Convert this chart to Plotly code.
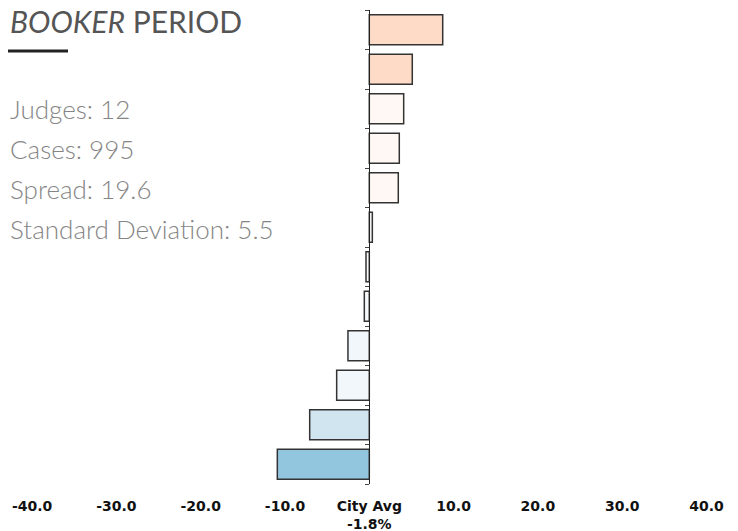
import plotly.graph_objects as go

judges = ["J1", "J2", "J3", "J4", "J5", "J6", "J7", "J8", "J9", "J10", "J11", "J12"]
values = [8.71, 5.1, 4.08, 3.56, 3.44, 0.36, -0.39, -0.59, -2.53, -3.87, -7.07, -10.91]
colors = ["#fddbc7", "#fddbc7", "#fff8f4", "#fff8f4", "#fff8f4", "#fbfbfb",
          "#f7f9fb", "#f7f9fb", "#f2f7fb", "#f2f7fb", "#d1e5f0", "#92c5de"]
tick_vals = [-40, -30, -20, -10, 0, 10, 20, 30, 40]
tick_text = ["-40.0", "-30.0", "-20.0", "-10.0", "City Avg<br>-1.8%", "10.0", "20.0", "30.0", "40.0"]
title_italic = "BOOKER"
title_rest = " PERIOD"
stats = ["Judges: 12", "Cases: 995", "Spread: 19.6", "Standard Deviation: 5.5"]

# page has an 8px body margin; figure sized to fill the remaining window
W, H = 730, 523
OFF = 8
PLOT_TOP, PLOT_BOT = 10, 484  # page pixels
X_MIN, X_MAX = -42.86, 43.74


def px(page_x):
    return (page_x - OFF) / W


def py(page_y):
    return (PLOT_BOT - page_y) / (PLOT_BOT - PLOT_TOP)


fig = go.Figure(go.Bar(
    x=values, y=judges, orientation="h",
    marker=dict(color=colors, line=dict(color="#333333", width=1.5)),
    width=0.76,
))

fig.update_layout(
    width=W, height=H,
    margin=dict(l=0, r=0, t=PLOT_TOP - OFF, b=H - (PLOT_BOT - OFF)),
    plot_bgcolor="white", paper_bgcolor="white",
    showlegend=False,
    xaxis=dict(range=[X_MIN, X_MAX], tickvals=tick_vals, ticktext=tick_text,
               showgrid=False, zeroline=False, showline=False, ticks="",
               ticklabelstandoff=12, automargin=False,
               tickfont=dict(family="DejaVu Sans", size=14, color="#111111", weight="bold"),
               fixedrange=True),
    yaxis=dict(categoryorder="array", categoryarray=judges[::-1],
               showticklabels=False, showgrid=False, zeroline=False,
               showline=True, linecolor="#222222", linewidth=1,
               ticks="outside", ticklen=4, tickcolor="#444444", tickson="boundaries",
               anchor="free", position=-X_MIN / (X_MAX - X_MIN), range=[-0.5, 11.5],
               automargin=False),
    font=dict(family="Lato"),
)

fig.add_annotation(x=px(8), y=py(21), xref="paper", yref="paper", xanchor="left", yanchor="middle",
                   text=f"<i>{title_italic}</i>{title_rest}", showarrow=False,
                   font=dict(family="Lato", size=30, color="#555555"))
fig.add_shape(type="line", xref="paper", yref="paper", x0=px(8), x1=px(68),
              y0=py(51), y1=py(51), line=dict(color="#222222", width=3))
ys = [109, 149, 189, 229]
for s, yy in zip(stats, ys):
    fig.add_annotation(x=px(8), y=py(yy), xref="paper", yref="paper", xanchor="left",
                       yanchor="middle", text=s, showarrow=False,
                       font=dict(family="Lato", size=26, color="#858585", weight=300))

fig.write_html("out.html")
